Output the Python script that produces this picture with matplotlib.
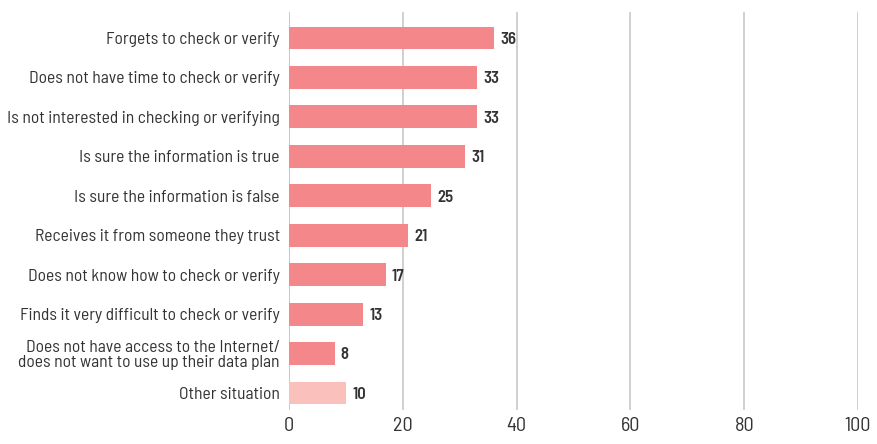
import matplotlib
matplotlib.use("Agg")
import matplotlib.pyplot as plt
from matplotlib import font_manager

names = {f.name for f in font_manager.fontManager.ttflist}
fam = "DejaVu Sans"
for cand in ["Barlow Semi Condensed", "Barlow Condensed", "Roboto Condensed",
             "IBM Plex Sans Condensed", "Open Sans"]:
    if cand in names:
        fam = cand
        break
plt.rcParams['font.family'] = [fam, 'DejaVu Sans']

categories = [
    "Forgets to check or verify",
    "Does not have time to check or verify",
    "Is not interested in checking or verifying",
    "Is sure the information is true",
    "Is sure the information is false",
    "Receives it from someone they trust",
    "Does not know how to check or verify",
    "Finds it very difficult to check or verify",
    "Does not have access to the Internet/\ndoes not want to use up their data plan",
    "Other situation",
]
values = [36, 33, 33, 31, 25, 21, 17, 13, 8, 10]
xticks = [0, 20, 40, 60, 80, 100]

colors = ["#F4878A"] * 9 + ["#F9C0BC"]

fig = plt.figure(figsize=(8.77, 4.44), dpi=100)
ax = fig.add_axes([289/877, 34/444, (858-289)/877, (432-34)/444])
y = list(range(len(categories)))
ax.barh(y, values, height=0.58, color=colors, zorder=3)
for yi, v in zip(y, values):
    ax.annotate(str(v), (v, yi), xytext=(4.5, -1), textcoords="offset points",
                va="center", ha="left", fontsize=12, fontweight="semibold", color="#333333")
ax.set_xlim(0, 100)
ax.set_ylim(len(categories) - 1 + 0.43, -0.66)
ax.set_xticks(xticks)
ax.set_xticklabels([str(t) for t in xticks], fontsize=14.5, color="#333333")
ax.set_yticks(y)
ax.set_yticklabels(categories, fontsize=12.6, color="#333333", linespacing=0.98)
ax.tick_params(axis="both", length=0)
ax.tick_params(axis="y", pad=6.5)
ax.tick_params(axis="x", pad=5)
ax.grid(axis="x", color="#C8C8C8", linewidth=1.2, zorder=0)
for s in ax.spines.values():
    s.set_visible(False)
ax.axvline(0, color="#C8C8C8", linewidth=1.2, zorder=1)
fig.savefig("out.png", dpi=100)
